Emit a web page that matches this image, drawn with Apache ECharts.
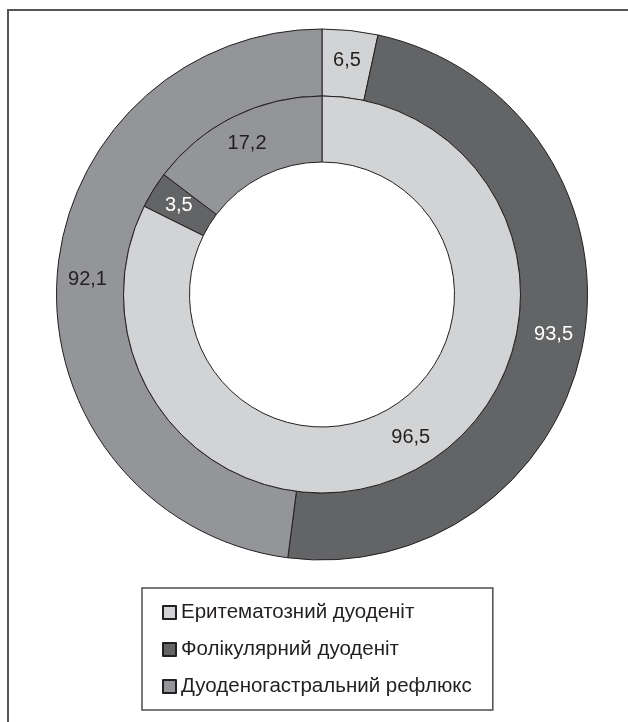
<!DOCTYPE html>
<html>
<head>
<meta charset="utf-8">
<script src="https://cdn.jsdelivr.net/npm/echarts@6/dist/echarts.min.js"></script>
<style>
  html, body { margin: 0; padding: 0; background: #ffffff; }
  #chart { width: 628px; height: 722px; }
</style>
</head>
<body>
<div id="chart"></div>
<script>
// Categories shared by both rings
const categories = ['Еритематозний дуоденіт', 'Фолікулярний дуоденіт', 'Дуоденогастральний рефлюкс'];
// Outer ring values
const outerValues = [6.5, 93.5, 92.1];
// Inner ring values
const innerValues = [96.5, 3.5, 17.2];

const colors = ['#d1d3d4', '#636466', '#939598'];
const labelColors = ['#231f20', '#ffffff', '#231f20'];
const fontFamily = '"Liberation Sans", Arial, Helvetica, sans-serif';

function ringData(values) {
  return values.map((v, i) => ({
    name: categories[i],
    value: v,
    label: { color: labelColors[i] }
  }));
}

function ring(values, radius) {
  return {
    type: 'pie',
    center: [322, 294.5],
    radius: radius,
    startAngle: 90,
    clockwise: true,
    avoidLabelOverlap: false,
    silent: true,
    itemStyle: { borderColor: '#231f20', borderWidth: 1 },
    label: {
      show: true,
      position: 'inside',
      fontSize: 20,
      fontFamily: fontFamily,
      formatter: p => String(p.value).replace('.', ',')
    },
    labelLine: { show: false },
    emphasis: { disabled: true },
    data: ringData(values)
  };
}

const chart = echarts.init(document.getElementById('chart'), null, { renderer: 'canvas' });
chart.setOption({
  animation: false,
  color: colors,
  legend: {
    data: categories,
    orient: 'vertical',
    left: 142,
    top: 588,
    padding: [14, 21, 13, 20],
    itemGap: 16,
    itemWidth: 13,
    itemHeight: 13,
    icon: 'rect',
    selectedMode: false,
    borderColor: '#4d4d4d',
    borderWidth: 1.5,
    textStyle: { fontSize: 20.5, color: '#231f20', fontFamily: fontFamily }
  },
  graphic: [
    {
      type: 'polyline',
      shape: { points: [[8, 722], [8, 10], [628, 10]] },
      style: { stroke: '#555555', lineWidth: 2, fill: null },
      silent: true
    }
  ],
  series: [
    ring(outerValues, [198.5, 265.5]),
    ring(innerValues, [132.5, 198.5])
  ]
});
</script>
</body>
</html>
